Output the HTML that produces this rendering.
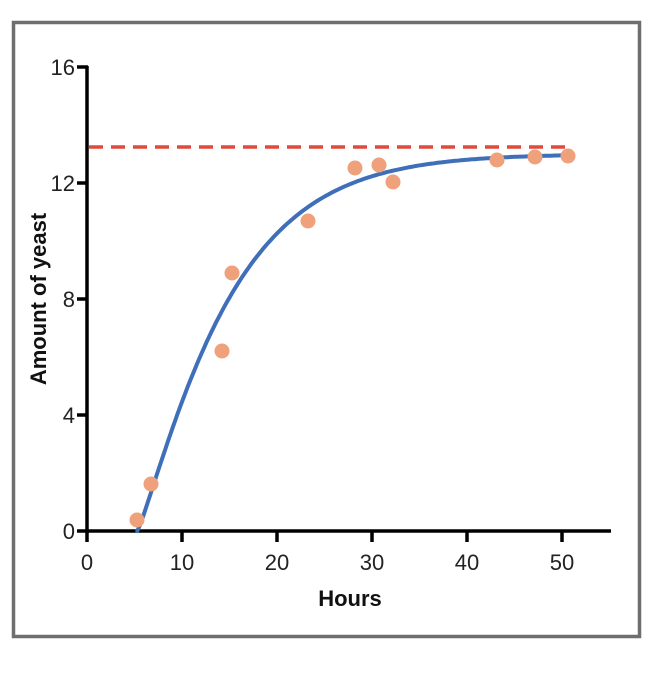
<!DOCTYPE html>
<html><head><style>
html,body{margin:0;padding:0;background:#fff;width:665px;height:684px;overflow:hidden}
</style></head><body>
<svg width="665" height="684" viewBox="0 0 665 684" xmlns="http://www.w3.org/2000/svg" font-family="Liberation Sans, sans-serif">
<rect x="13.5" y="22.5" width="626" height="614" fill="#fff" stroke="#6e6e6e" stroke-width="3.5"/>
<g stroke="#000" stroke-width="3.5" fill="none">
<line x1="87" y1="66" x2="87" y2="533"/>
<line x1="77" y1="531" x2="611" y2="531"/>
<line x1="77" y1="67" x2="88" y2="67"/>
<line x1="77" y1="183" x2="88" y2="183"/>
<line x1="77" y1="299" x2="88" y2="299"/>
<line x1="77" y1="415" x2="88" y2="415"/>
<line x1="87" y1="531" x2="87" y2="542"/>
<line x1="182" y1="531" x2="182" y2="542"/>
<line x1="277" y1="531" x2="277" y2="542"/>
<line x1="372" y1="531" x2="372" y2="542"/>
<line x1="467" y1="531" x2="467" y2="542"/>
<line x1="562" y1="531" x2="562" y2="542"/>
</g>
<g font-size="22" fill="#222" text-anchor="end">
<text x="75" y="75">16</text>
<text x="75" y="191">12</text>
<text x="75" y="307">8</text>
<text x="75" y="423">4</text>
<text x="75" y="539">0</text>
</g>
<g font-size="22" fill="#222" text-anchor="middle">
<text x="87" y="570">0</text>
<text x="182" y="570">10</text>
<text x="277" y="570">20</text>
<text x="372" y="570">30</text>
<text x="467" y="570">40</text>
<text x="562" y="570">50</text>
</g>
<text x="350" y="606" font-size="22" font-weight="bold" text-anchor="middle" fill="#111">Hours</text>
<text transform="translate(46,299) rotate(-90)" font-size="22" font-weight="bold" text-anchor="middle" fill="#111">Amount of yeast</text>
<line x1="89" y1="147" x2="570" y2="147" stroke="#e04a3a" stroke-width="3.5" stroke-dasharray="14,8"/>
<path id="curve" fill="none" stroke="#3f6fb8" stroke-width="4" stroke-linejoin="round" stroke-linecap="round" d=""/>
<g fill="#eea17a">
<circle cx="137" cy="520" r="7.5"/>
<circle cx="151" cy="484" r="7.5"/>
<circle cx="222" cy="351" r="7.5"/>
<circle cx="232" cy="273" r="7.5"/>
<circle cx="308" cy="221" r="7.5"/>
<circle cx="355" cy="168" r="7.5"/>
<circle cx="379" cy="165" r="7.5"/>
<circle cx="393" cy="182" r="7.5"/>
<circle cx="497" cy="160" r="7.5"/>
<circle cx="535" cy="157" r="7.5"/>
<circle cx="568" cy="156" r="7.5"/>
</g>
</svg>
<script>
var d="";
for(var x=5.3;x<=51.05;x+=0.25){
 var t=x-5.3;
 var y=13*(1-Math.exp(-Math.pow(t/10,1.15)));
 var px=87+9.5*x, py=531-29*y;
 d+=(d?"L":"M")+px.toFixed(1)+","+py.toFixed(1);
}
document.getElementById("curve").setAttribute("d",d);
</script>
</body></html>
